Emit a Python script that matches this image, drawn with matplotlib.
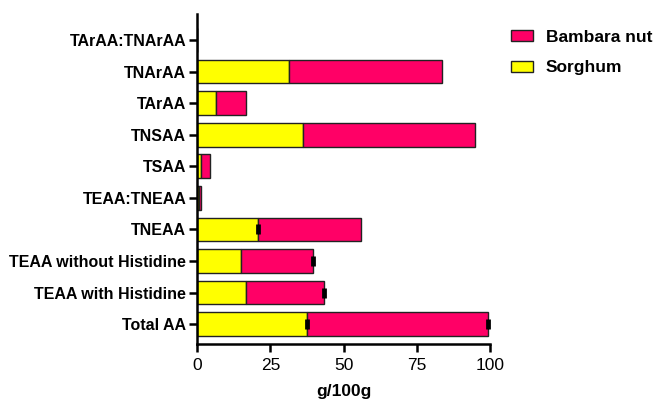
import matplotlib
matplotlib.use("Agg")
import matplotlib.pyplot as plt
import numpy as np

categories = ["Total AA", "TEAA with Histidine", "TEAA without Histidine", "TNEAA",
              "TEAA:TNEAA", "TSAA", "TNSAA", "TArAA", "TNArAA", "TArAA:TNArAA"]
sorghum = [37.6, 16.6, 15.0, 20.8, 0.5, 1.4, 36.0, 6.4, 31.2, 0.0]
bambara = [61.8, 26.7, 24.5, 35.2, 0.7, 2.8, 58.9, 10.3, 52.3, 0.0]
sorghum_err = [0.4, 0.0, 0.0, 0.4, 0.0, 0.0, 0.0, 0.0, 0.0, 0.0]
bambara_err = [0.4, 0.4, 0.4, 0.0, 0.0, 0.0, 0.0, 0.0, 0.0, 0.0]

plt.rcParams['font.family'] = ['Liberation Sans', 'DejaVu Sans']

fig = plt.figure(figsize=(6.54, 3.99), dpi=100)
ax = fig.add_axes([0.3017, 0.1378, 0.4473, 0.827])

y = np.arange(len(categories))
h = 0.75
yellow = "#FFFF00"
pink = "#FF0066"

ax.barh(y, sorghum, height=h, color=yellow, edgecolor="#222222", linewidth=1.0,
        label="Sorghum", zorder=2)
ax.barh(y, bambara, left=sorghum, height=h, color=pink, edgecolor="#222222",
        linewidth=1.0, label="Bambara nut", zorder=2)

s = np.array(sorghum)
b = np.array(bambara)
se = np.array(sorghum_err)
be = np.array(bambara_err)
m = se > 0
ax.errorbar(s[m], y[m], xerr=se[m], fmt="none", ecolor="black", elinewidth=2,
            capsize=3.5, capthick=2, zorder=3)
m = be > 0
ax.errorbar((s + b)[m], y[m], xerr=be[m], fmt="none", ecolor="black", elinewidth=2,
            capsize=3.5, capthick=2, zorder=3)

ax.set_xlim(0, 100)
ax.set_ylim(-0.63, 9.82)
ax.set_xticks([0, 25, 50, 75, 100])
ax.set_yticks(y)
ax.set_yticklabels(categories, fontweight="bold", fontsize=11.5)
ax.tick_params(axis="x", labelsize=12.5, width=1.8, length=6, pad=4)
ax.tick_params(axis="y", width=1.8, length=6, pad=2)
for sp in ["top", "right"]:
    ax.spines[sp].set_visible(False)
for sp in ["left", "bottom"]:
    ax.spines[sp].set_linewidth(1.8)
ax.set_xlabel("g/100g", fontweight="bold", fontsize=12.5, labelpad=8)

handles, labels = ax.get_legend_handles_labels()
ax.legend(handles[::-1], labels[::-1], loc="upper left", bbox_to_anchor=(1.02, 1.0),
          frameon=False, prop={"weight": "bold", "size": 12.5}, handlelength=1.25,
          handleheight=0.6, handletextpad=0.75, labelspacing=0.9)

fig.savefig("out.png", dpi=100)
